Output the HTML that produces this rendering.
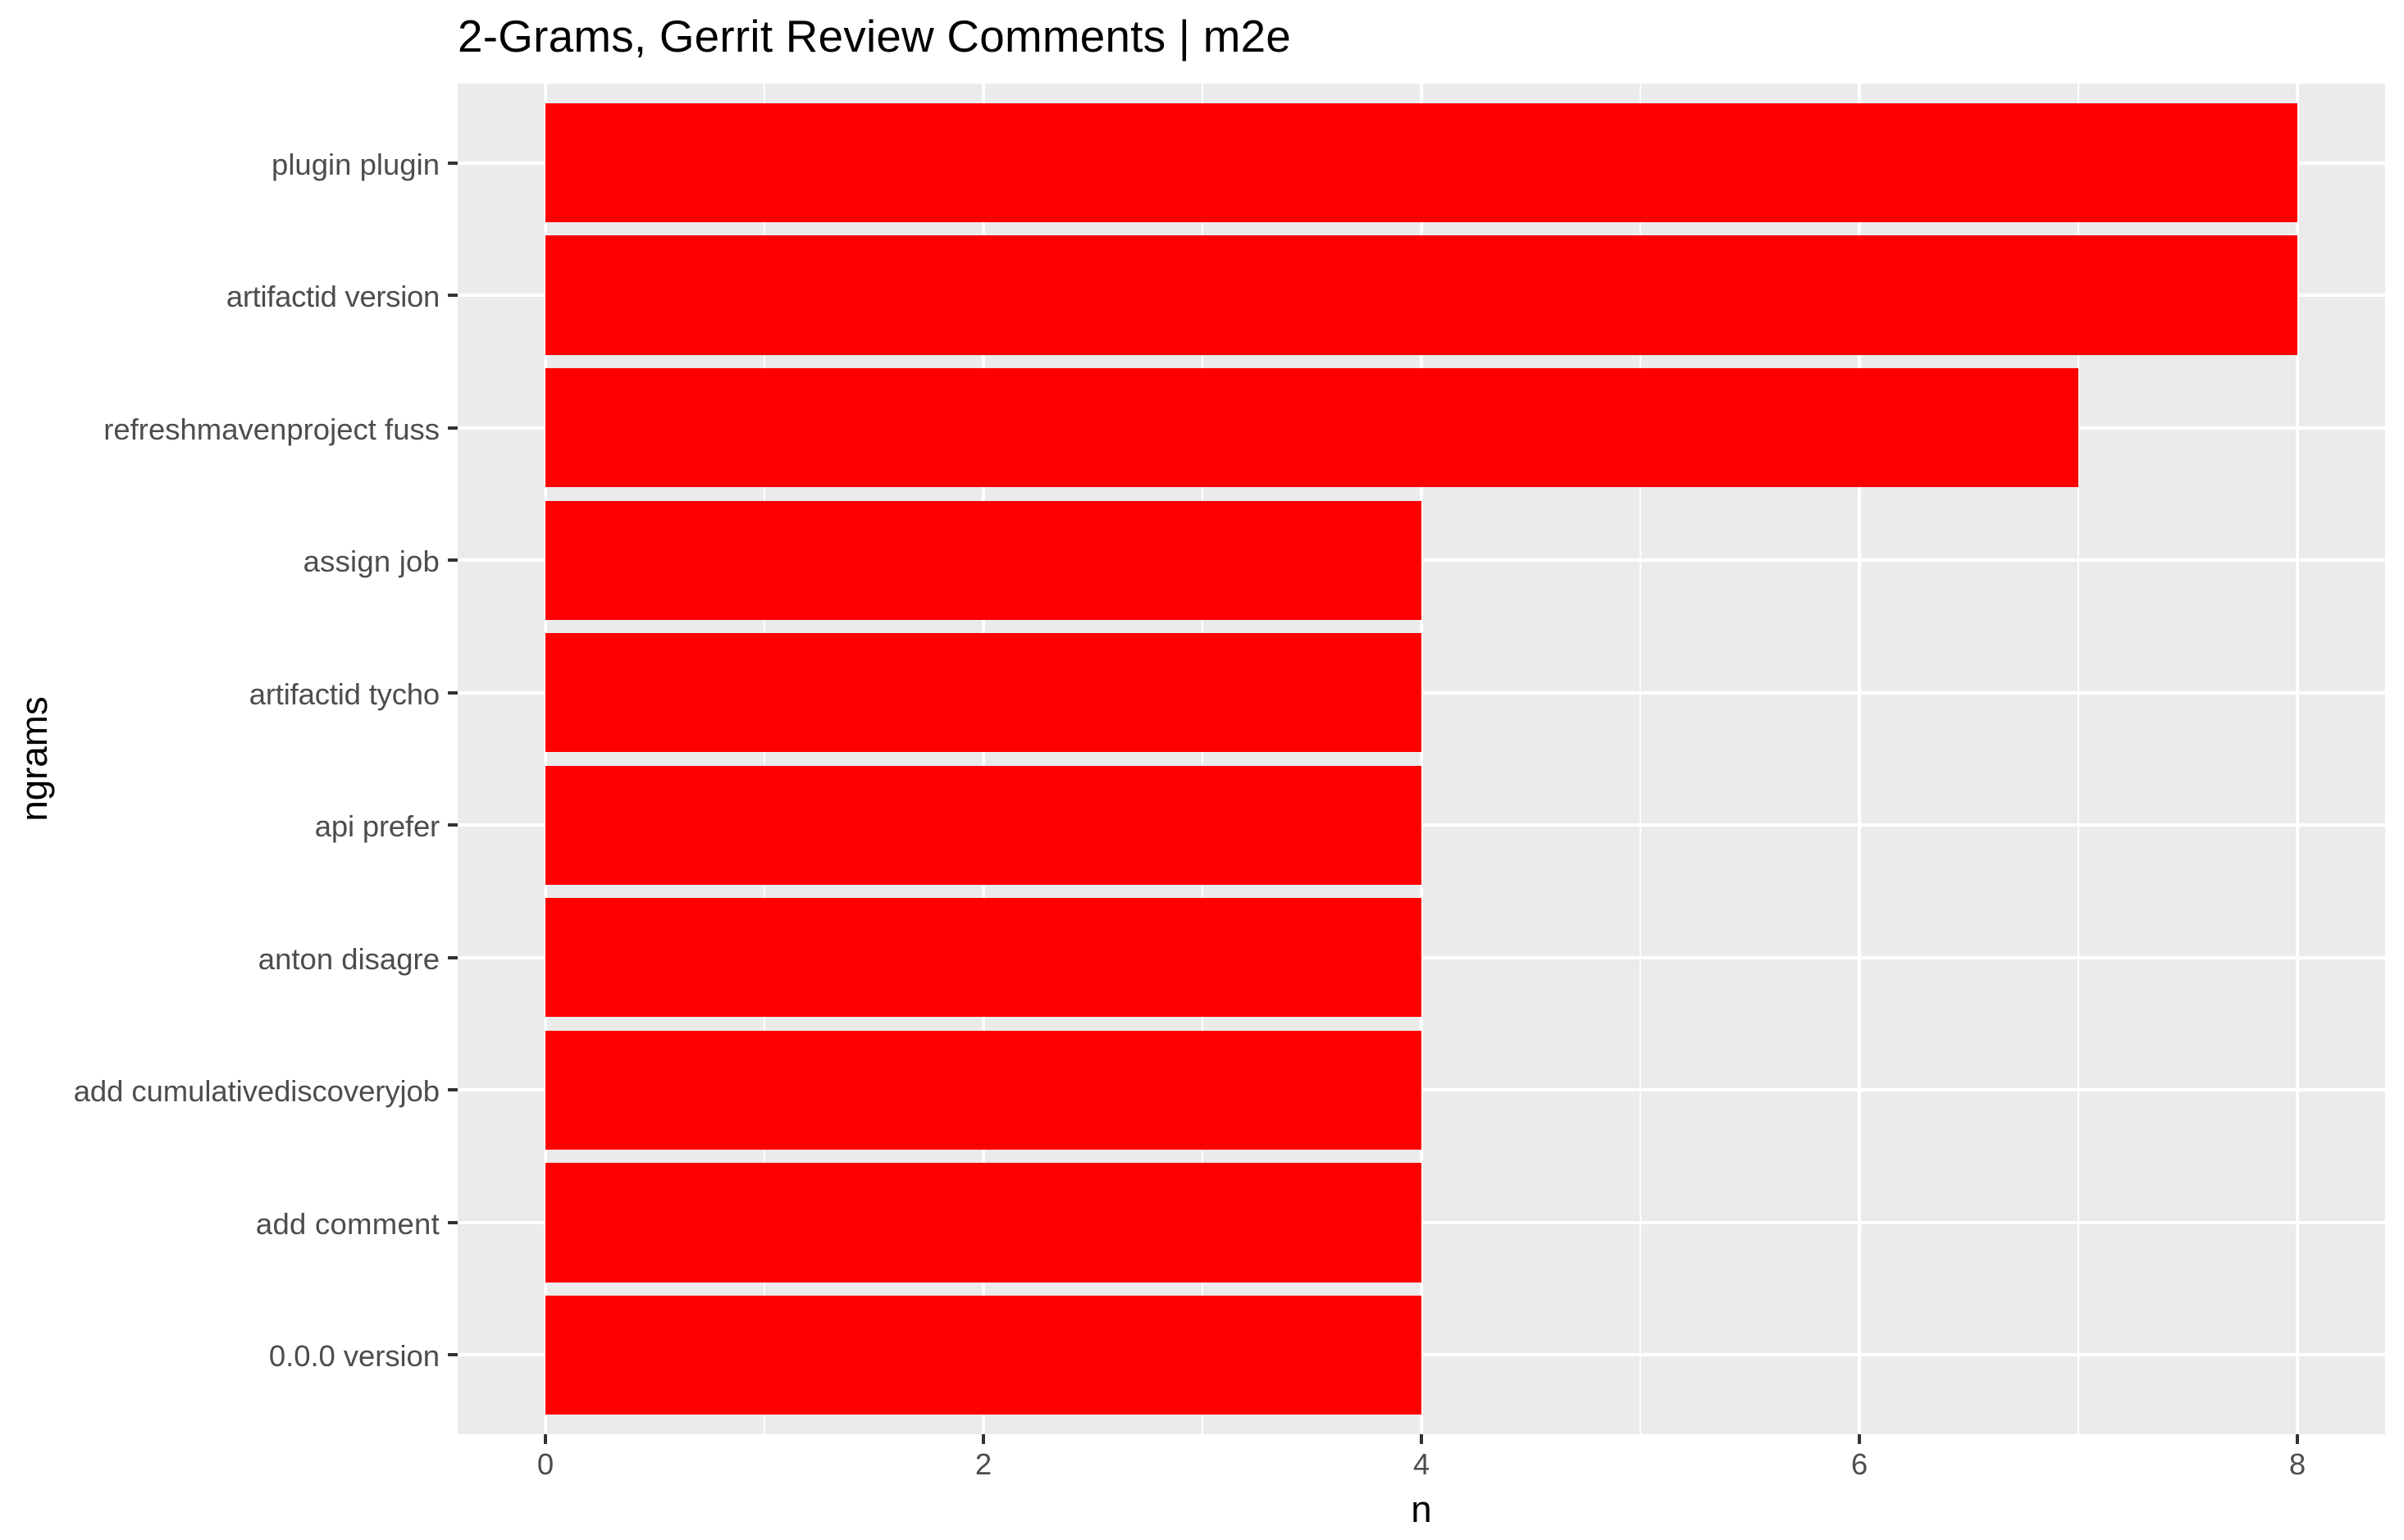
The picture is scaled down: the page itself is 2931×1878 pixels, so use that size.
<!DOCTYPE html>
<html lang="en">
<head>
<meta charset="utf-8">
<title>2-Grams, Gerrit Review Comments | m2e</title>
<style>
html,body{margin:0;padding:0;background:#fff;}
svg{display:block;}
text{font-family:"Liberation Sans",Arial,sans-serif;}
</style>
</head>
<body>
<svg id="chart" xmlns="http://www.w3.org/2000/svg" width="2931" height="1878" viewBox="0 0 2931 1878">
  <rect x="0" y="0" width="2931" height="1878" fill="#ffffff"/>
  <rect x="558" y="102" width="2350" height="1647" fill="#EBEBEB"/>
  <g id="grid"></g>
  <g id="bars"></g>
  <g id="xaxis"></g>
  <g id="yaxis"></g>
  <text x="558" y="63" font-size="54.8" letter-spacing="0.25" fill="#000">2-Grams, Gerrit Review Comments | m2e</text>
  <text x="1733" y="1856" font-size="45.7" fill="#000" text-anchor="middle">n</text>
  <text transform="translate(57 925.5) rotate(-90)" font-size="45.7" fill="#000" text-anchor="middle">ngrams</text>
</svg>
<script>
const categories = ["plugin plugin","artifactid version","refreshmavenproject fuss","assign job","artifactid tycho","api prefer","anton disagre","add cumulativediscoveryjob","add comment","0.0.0 version"];
const values = [8,8,7,4,4,4,4,4,4,4];
const xMajorTicks = [0,2,4,6,8];
const xMinorTicks = [1,3,5,7];

const NS = "http://www.w3.org/2000/svg";
const panel = {left:558, right:2908, top:102, bottom:1749};
const xDomain = [-0.4, 8.4];
const yExpand = 0.6;
const barBand = {origin:125.9, step:161.56, height:145.15};
const labelTracking = {
  "artifactid version": -0.31,
  "assign job": 0.2,
  "artifactid tycho": -0.19,
  "api prefer": -0.2,
  "add cumulativediscoveryjob": -0.08,
  "add comment": 0.27,
  "0.0.0 version": -0.07
};
function xScale(v){
  return panel.left + (v - xDomain[0]) / (xDomain[1] - xDomain[0]) * (panel.right - panel.left);
}
function yStep(){
  return (panel.bottom - panel.top) / (categories.length - 1 + 2 * yExpand);
}
function yScale(i){
  return panel.top + (yExpand + i) * yStep();
}
function barTop(i){
  return barBand.origin + barBand.step * i;
}
function make(tag, attrs, parent){
  const el = document.createElementNS(NS, tag);
  for (const k in attrs) el.setAttribute(k, attrs[k]);
  parent.appendChild(el);
  return el;
}
const grid = document.getElementById("grid");
const bars = document.getElementById("bars");
const xaxis = document.getElementById("xaxis");
const yaxis = document.getElementById("yaxis");

xMinorTicks.forEach(function(t){
  const c = Math.round(xScale(t));
  const el = make("rect", {x:c-1, y:panel.top, width:2, height:panel.bottom-panel.top, fill:"#fff"}, grid);
  
  
});
xMajorTicks.forEach(function(t){
  const c = Math.round(xScale(t));
  const el = make("rect", {x:c-2, y:panel.top, width:4, height:panel.bottom-panel.top, fill:"#fff"}, grid);
  
  

  const tick = make("rect", {x:c-2, y:panel.bottom, width:4, height:12, fill:"#333333"}, xaxis);
  
  

  const label = make("text", {x:c, y:1798, "font-size":36.5, fill:"#4D4D4D", "text-anchor":"middle"}, xaxis);
  
  
  label.textContent = String(t);
});
categories.forEach(function(name, i){
  const c = Math.round(yScale(i));
  const line = make("rect", {x:panel.left, y:c-2, width:panel.right-panel.left, height:4, fill:"#fff"}, grid);
  
  

  const tick = make("rect", {x:panel.left-12, y:c-2, width:12, height:4, fill:"#333333"}, yaxis);
  
  

  const label = make("text", {x:536, y:c+14, "font-size":36.5, "letter-spacing":labelTracking[name] || 0, fill:"#4D4D4D", "text-anchor":"end"}, yaxis);
  
  
  label.textContent = name;

  const top = Math.round(barTop(i));
  const bottom = Math.round(barTop(i) + barBand.height);
  const x0 = Math.round(xScale(0));
  const x1 = Math.round(xScale(values[i]));
  const bar = make("rect", {x:x0, y:top, width:x1-x0, height:bottom-top, fill:"#FF0000"}, bars);
  
  
});
</script>
</body>
</html>
